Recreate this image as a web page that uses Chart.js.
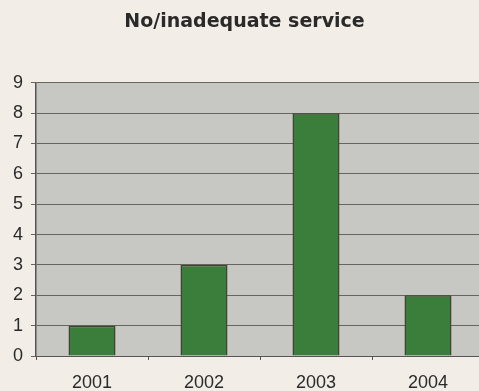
<!DOCTYPE html>
<html>
<head>
<meta charset="utf-8">
<script src="https://cdn.jsdelivr.net/npm/chart.js@4/dist/chart.umd.min.js"></script>
<style>
  html, body { margin: 0; padding: 0; background: #f2eee7; overflow: hidden; }
  #wrap { position: relative; width: 484px; height: 408px; }
</style>
</head>
<body>
<div id="wrap"><canvas id="c"></canvas></div>
<script>
// 每年无服务/服务不足的次数
const years = ['2001', '2002', '2003', '2004'];
const counts = [1, 3, 8, 2];
const yTicks = [0, 1, 2, 3, 4, 5, 6, 7, 8, 9];

// 绘图区灰色底
const plotBg = {
    id: 'plotBg',
    beforeDraw(chart) {
        const a = chart.chartArea, ctx = chart.ctx;
        ctx.save();
        ctx.fillStyle = '#c7c7c3';
        ctx.fillRect(a.left, a.top, a.right - a.left, a.bottom - a.top);
        ctx.restore();
    }
};

const labelFont = { family: 'Liberation Sans, Arial', size: 18, lineHeight: 1 };

new Chart(document.getElementById('c'), {
    type: 'bar',
    data: {
        labels: years,
        datasets: [{
            data: counts,
            backgroundColor: '#3b7d3b',
            borderColor: '#3f4532',
            borderWidth: 1.5,
            barPercentage: 0.42,
            categoryPercentage: 1,
        }]
    },
    options: {
        responsive: true,
        maintainAspectRatio: false,
        animation: false,
        layout: { padding: { left: 5, right: 0, top: 8, bottom: 2 } },
        plugins: {
            legend: { display: false },
            tooltip: { enabled: false },
            title: {
                display: true,
                text: 'No/inadequate service',
                color: '#2a2a2a',
                font: { family: 'DejaVu Sans', size: 19, weight: 'bold', lineHeight: 1.2 },
                padding: { top: 3, bottom: 49 }
            }
        },
        scales: {
            x: {
                grid: { display: true, offset: true, drawOnChartArea: false, tickLength: 4, color: '#555' },
                border: { color: '#555', width: 1 },
                ticks: { color: '#2a2a2a', font: labelFont, padding: 14 }
            },
            y: {
                min: 0,
                max: 9,
                afterBuildTicks(scale) { scale.ticks = yTicks.map(v => ({ value: v })); },
                grid: { color: '#66665f', tickLength: 5, lineWidth: 1 },
                border: { color: '#555', width: 1.5 },
                ticks: { color: '#2a2a2a', font: labelFont, padding: 8 }
            }
        }
    },
    plugins: [plotBg]
});
</script>
</body>
</html>
